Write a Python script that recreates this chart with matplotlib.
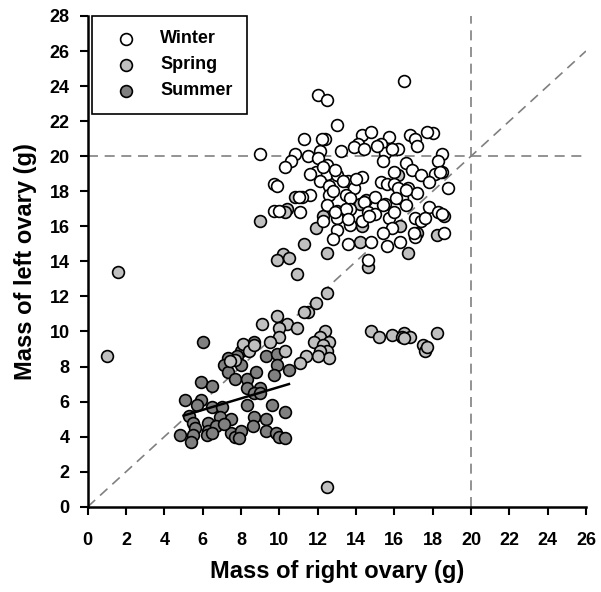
import numpy as np
from matplotlib import pyplot as plt

plt.rcParams['font.family'] = ['Liberation Sans', 'DejaVu Sans']
plt.rcParams['font.weight'] = 'bold'

# right ovary (x), left ovary (y) in grams
winter_x = [16.5, 12.0, 12.5, 13.0, 11.3, 12.4, 16.8, 17.1, 17.2, 14.3, 14.8, 15.7, 18.0, 14.1,
            13.9, 14.4, 15.3, 16.2, 13.2, 11.5, 12.1, 12.0, 10.8, 9.0, 10.6, 10.3, 15.5, 15.4,
            18.5, 18.3, 16.6, 16.0, 16.9, 18.5, 18.1, 12.5, 11.9, 12.5, 13.0, 13.6, 14.3, 15.3,
            15.6, 16.0, 17.4, 17.8, 18.8, 9.7, 9.9, 12.1, 12.6, 13.9, 16.7, 17.2, 11.6, 11.2,
            12.6, 13.5, 13.7, 15.0, 14.4, 15.5, 16.4, 16.6, 17.8, 9.7, 10.0, 11.1, 12.5, 13.0,
            13.7, 14.6, 15.0, 15.7, 17.1, 17.4, 17.6, 18.3, 18.5, 13.0, 12.3, 13.7, 14.3, 15.9,
            13.0, 15.4, 18.6, 17.1, 12.8, 13.6, 14.8, 15.6, 16.3, 14.6, 16.2,
            15.1, 15.9, 17.7, 14.0, 13.3, 12.9, 16.1, 15.4, 13.5, 12.9, 13.6, 14.7, 16.0, 17.0,
            18.4, 16.6, 12.3, 11.6, 12.2, 11.0, 12.8]
winter_y = [24.3, 23.5, 23.2, 21.8, 21.0, 21.0, 21.2, 21.0, 20.6, 21.2, 21.4, 21.1, 21.3, 20.7,
            20.5, 20.4, 20.7, 20.4, 20.3, 20.0, 20.3, 19.9, 20.1, 20.1, 19.7, 19.4, 20.2, 19.7,
            20.1, 19.7, 19.6, 19.1, 19.2, 19.1, 19.0, 19.5, 19.1, 19.0, 18.9, 18.6, 18.8, 18.5,
            18.4, 18.4, 18.9, 18.5, 18.2, 18.4, 18.3, 18.6, 18.3, 18.2, 18.2, 17.9, 17.8, 17.7,
            17.8, 17.8, 17.6, 17.7, 17.4, 17.3, 17.6, 17.2, 17.1, 16.9, 16.9, 16.8, 17.2, 16.9,
            17.0, 16.8, 16.7, 16.5, 16.5, 16.3, 16.5, 16.8, 16.7, 16.5, 16.3, 16.1, 16.3, 15.9,
            15.8, 15.6, 15.6, 15.4, 15.3, 15.0, 15.1, 14.9, 15.1, 14.1, 18.2,
            20.6, 20.4, 21.4, 18.7, 18.6, 19.2, 17.6, 17.2, 17.0, 16.8, 16.4, 16.6, 16.8, 15.6,
            19.1, 18.1, 19.4, 19.0, 21.0, 17.7, 18.0]

spring_x = [1.6, 1.0, 12.5, 9.0, 10.8, 10.4, 10.3, 11.9, 12.3, 14.2, 14.5, 14.3, 16.3, 16.2,
            16.3, 17.2, 18.6, 18.2, 14.2, 11.3, 12.5, 16.7, 10.2, 9.9, 10.5, 10.9, 14.6, 12.5,
            11.9, 11.5, 11.3, 9.9, 9.1, 10.4, 10.0, 10.9, 10.0, 14.8, 15.2, 15.9, 16.5, 16.4,
            16.8, 16.5, 18.2, 17.5, 17.6, 17.7, 12.4, 12.1, 11.8, 12.6, 12.3, 12.5, 12.1, 12.6,
            12.0, 11.4, 11.1, 9.5, 10.3, 8.1, 8.4, 8.7, 7.7, 7.4]
spring_y = [13.4, 8.6, 1.1, 16.3, 17.7, 17.0, 16.8, 15.9, 16.6, 17.3, 17.5, 16.0, 17.6, 18.9,
            16.0, 15.6, 16.6, 15.5, 15.1, 15.0, 14.5, 14.5, 14.4, 14.1, 14.2, 13.3, 13.7, 12.2,
            11.6, 11.1, 11.1, 10.9, 10.4, 10.4, 10.2, 10.2, 9.7, 10.0, 9.7, 9.8, 9.9, 9.7,
            9.7, 9.6, 9.9, 9.2, 8.9, 9.1, 10.0, 9.7, 9.4, 9.4, 9.2, 8.9, 8.9, 8.5,
            8.6, 8.6, 8.2, 9.4, 8.9, 9.3, 8.9, 9.2, 8.4, 8.3]

summer_x = [6.0, 8.7, 9.3, 9.9, 8.0, 7.8, 7.3, 7.1, 8.0, 9.9, 10.5, 7.3, 7.7, 8.3, 8.8, 9.7,
            5.9, 6.5, 8.3, 9.0, 8.7, 9.0, 8.3, 5.1, 5.9, 5.7, 6.5, 7.0, 9.6, 10.3, 5.3, 6.3,
            6.9, 7.5, 8.7, 9.3, 5.5, 5.6, 6.3, 6.7, 7.5, 7.7, 8.0, 8.6, 9.3, 9.8, 10.0, 10.3,
            7.9, 4.8, 5.5, 5.4, 6.2, 6.5, 7.1]
summer_y = [9.4, 9.4, 8.6, 8.7, 8.9, 8.6, 8.5, 8.1, 8.1, 8.1, 7.8, 7.7, 7.3, 7.3, 7.7, 7.5,
            7.1, 6.9, 6.8, 6.8, 6.5, 6.5, 5.8, 6.1, 6.1, 5.8, 5.7, 5.7, 5.8, 5.4, 5.2, 4.8,
            5.1, 5.0, 5.1, 5.0, 4.8, 4.5, 4.3, 4.6, 4.2, 4.0, 4.3, 4.6, 4.3, 4.2, 4.0, 3.9,
            3.9, 4.1, 4.1, 3.7, 4.1, 4.2, 4.7]

# summer regression line end points
fit_x = [5.0, 10.5]
fit_y = [5.2, 7.0]

fig = plt.figure(figsize=(6.01, 5.92), dpi=100)
ax = fig.add_axes([0.146, 0.144, 0.829, 0.829])

ax.plot([0, 26], [0, 26], color='#808080', ls=(0, (6, 4)), lw=1.2, zorder=1)
ax.axhline(20, color='#808080', ls=(0, (6, 4)), lw=1.2, zorder=1)
ax.axvline(20, color='#808080', ls=(0, (6, 4)), lw=1.2, zorder=1)

kw = dict(s=72, edgecolors='black', linewidths=1.2, zorder=3)
ax.scatter(summer_x, summer_y, c='#808080', label='Summer', **kw)
ax.scatter(spring_x, spring_y, c='#c0c0c0', label='Spring', **kw)
ax.scatter(winter_x, winter_y, c='white', label='Winter', **kw)
ax.plot(fit_x, fit_y, color='black', lw=1.8, zorder=4)

ax.set_xlim(0, 26)
ax.set_ylim(0, 28)
ax.set_xticks(np.arange(0, 27, 2))
ax.set_yticks(np.arange(0, 29, 2))
ax.tick_params(direction='out', length=6, width=1.5, labelsize=13)
ax.tick_params(axis='x', pad=12)
ax.tick_params(axis='y', pad=7)
for lab in ax.get_xticklabels() + ax.get_yticklabels():
    lab.set_fontweight('bold')
for s in ['top', 'right']:
    ax.spines[s].set_visible(False)
for s in ['left', 'bottom']:
    ax.spines[s].set_linewidth(1.8)

ax.set_xlabel('Mass of right ovary (g)', fontsize=17, fontweight='bold', labelpad=8)
ax.set_ylabel('Mass of left ovary (g)', fontsize=17, fontweight='bold', labelpad=9)

h, l = ax.get_legend_handles_labels()
leg = ax.legend(h[::-1], l[::-1], loc='upper left', bbox_to_anchor=(0.008, 1.0),
                borderaxespad=0, fancybox=False, edgecolor='black', framealpha=1,
                fontsize=13, borderpad=0.8, handlelength=2.2, handletextpad=0.8,
                labelspacing=0.5)
leg.get_frame().set_linewidth(1.2)
for t in leg.get_texts():
    t.set_fontweight('bold')

fig.savefig('out.png', dpi=100)
